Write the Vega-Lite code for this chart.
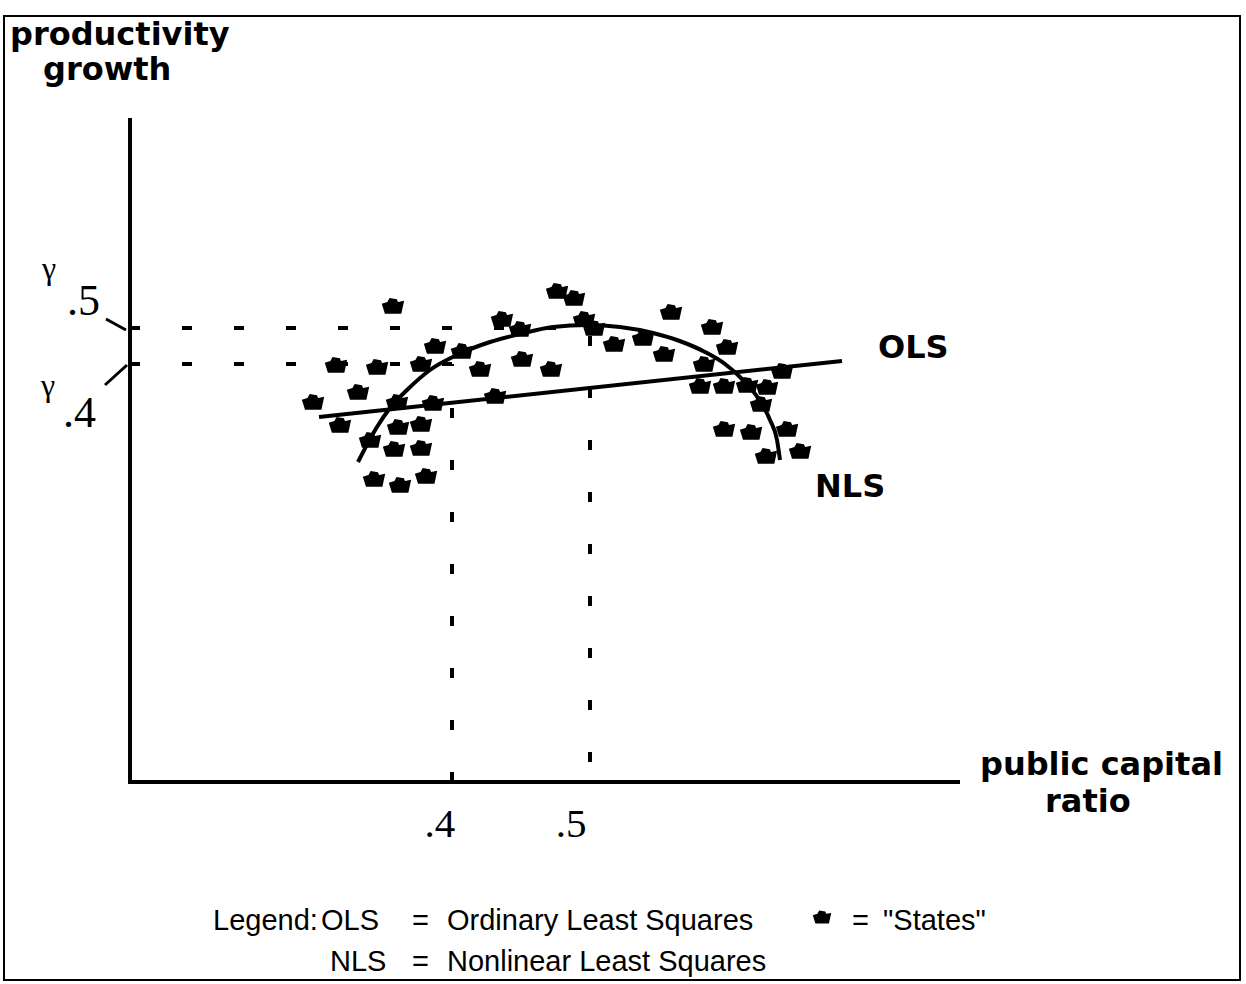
{
  "$schema": "https://vega.github.io/schema/vega-lite/v6.json",
  "width": 1246,
  "height": 984,
  "autosize": {"type": "fit", "contains": "padding"},
  "padding": {"left": 4, "top": 16, "right": 6, "bottom": 4},
  "background": "white",
  "config": {"view": {"stroke": "black", "strokeWidth": 2}},
  "datasets": {
    "axes": [
      {"ratio": 0.16667, "growth": 0, "ratio_end": 0.16667, "growth_end": 6.62},
      {"ratio": 0.16667, "growth": 0, "ratio_end": 0.76667, "growth_end": 0}
    ],
    "slashes": [
      {"ratio": 0.14928, "growth": 4.63, "ratio_end": 0.16377, "growth_end": 4.52},
      {"ratio": 0.14855, "growth": 3.97, "ratio_end": 0.16449, "growth_end": 4.17}
    ],
    "dashes": [
      {"ratio": 0.16667, "growth": 4.54, "ratio_end": 0.5, "growth_end": 4.54},
      {"ratio": 0.16667, "growth": 4.18, "ratio_end": 0.4, "growth_end": 4.18},
      {"ratio": 0.4, "growth": 0, "ratio_end": 0.4, "growth_end": 4.18},
      {"ratio": 0.5, "growth": 4.46, "ratio_end": 0.5, "growth_end": 0.12}
    ],
    "ols": [
      {"ratio": 0.30362, "growth": 3.65},
      {"ratio": 0.68261, "growth": 4.21}
    ],
    "nls": [
      {"ratio": 0.33188, "growth": 3.20},
      {"ratio": 0.34565, "growth": 3.55},
      {"ratio": 0.35507, "growth": 3.74},
      {"ratio": 0.36739, "growth": 3.92},
      {"ratio": 0.38406, "growth": 4.12},
      {"ratio": 0.40362, "growth": 4.27},
      {"ratio": 0.42754, "growth": 4.40},
      {"ratio": 0.44928, "growth": 4.48},
      {"ratio": 0.47319, "growth": 4.55},
      {"ratio": 0.49783, "growth": 4.57},
      {"ratio": 0.52174, "growth": 4.55},
      {"ratio": 0.54565, "growth": 4.49},
      {"ratio": 0.56500, "growth": 4.41},
      {"ratio": 0.58333, "growth": 4.30},
      {"ratio": 0.59783, "growth": 4.18},
      {"ratio": 0.61014, "growth": 4.03},
      {"ratio": 0.62174, "growth": 3.84},
      {"ratio": 0.63043, "growth": 3.62},
      {"ratio": 0.63551, "growth": 3.42},
      {"ratio": 0.63768, "growth": 3.22}
    ],
    "states": [
      {"ratio": 0.3572, "growth": 4.75},
      {"ratio": 0.3159, "growth": 4.16},
      {"ratio": 0.3457, "growth": 4.14},
      {"ratio": 0.3775, "growth": 4.17},
      {"ratio": 0.3319, "growth": 3.89},
      {"ratio": 0.2993, "growth": 3.79},
      {"ratio": 0.3601, "growth": 3.79},
      {"ratio": 0.3188, "growth": 3.56},
      {"ratio": 0.3609, "growth": 3.54},
      {"ratio": 0.3775, "growth": 3.57},
      {"ratio": 0.3406, "growth": 3.41},
      {"ratio": 0.3580, "growth": 3.32},
      {"ratio": 0.3775, "growth": 3.33},
      {"ratio": 0.3435, "growth": 3.02},
      {"ratio": 0.3623, "growth": 2.96},
      {"ratio": 0.3812, "growth": 3.05},
      {"ratio": 0.3877, "growth": 4.35},
      {"ratio": 0.4072, "growth": 4.30},
      {"ratio": 0.4203, "growth": 4.12},
      {"ratio": 0.3862, "growth": 3.78},
      {"ratio": 0.4362, "growth": 4.62},
      {"ratio": 0.4493, "growth": 4.52},
      {"ratio": 0.4507, "growth": 4.22},
      {"ratio": 0.4717, "growth": 4.12},
      {"ratio": 0.4312, "growth": 3.85},
      {"ratio": 0.4761, "growth": 4.90},
      {"ratio": 0.4884, "growth": 4.83},
      {"ratio": 0.4957, "growth": 4.62},
      {"ratio": 0.5029, "growth": 4.53},
      {"ratio": 0.5174, "growth": 4.37},
      {"ratio": 0.5384, "growth": 4.43},
      {"ratio": 0.5536, "growth": 4.27},
      {"ratio": 0.5587, "growth": 4.69},
      {"ratio": 0.5884, "growth": 4.54},
      {"ratio": 0.5993, "growth": 4.34},
      {"ratio": 0.5826, "growth": 4.17},
      {"ratio": 0.6391, "growth": 4.10},
      {"ratio": 0.5797, "growth": 3.95},
      {"ratio": 0.5971, "growth": 3.95},
      {"ratio": 0.6138, "growth": 3.96},
      {"ratio": 0.6283, "growth": 3.94},
      {"ratio": 0.6239, "growth": 3.77},
      {"ratio": 0.5971, "growth": 3.52},
      {"ratio": 0.6167, "growth": 3.49},
      {"ratio": 0.6428, "growth": 3.52},
      {"ratio": 0.6275, "growth": 3.25},
      {"ratio": 0.6522, "growth": 3.30}
    ],
    "boldLabels": [
      {"ratio": 0.07971, "growth": 7.37, "label": "productivity"},
      {"ratio": 0.10362, "growth": 7.02, "label": "growth"},
      {"ratio": 0.78261, "growth": 0.07, "label": "public capital"},
      {"ratio": 0.82971, "growth": -0.30, "label": "ratio"},
      {"ratio": 0.70870, "growth": 4.24, "label": "OLS"},
      {"ratio": 0.66304, "growth": 2.85, "label": "NLS"}
    ],
    "gammas": [
      {"ratio": 0.10290, "growth": 5.03, "label": "γ"},
      {"ratio": 0.10217, "growth": 3.86, "label": "γ"}
    ],
    "yValues": [
      {"ratio": 0.12101, "growth": 4.67, "label": ".5"},
      {"ratio": 0.11812, "growth": 3.55, "label": ".4"}
    ],
    "xValues": [
      {"ratio": 0.39130, "growth": -0.55, "label": ".4"},
      {"ratio": 0.48623, "growth": -0.55, "label": ".5"}
    ],
    "legendText": [
      {"ratio": 0.22681, "growth": -1.48, "label": "Legend:"},
      {"ratio": 0.30507, "growth": -1.48, "label": "OLS"},
      {"ratio": 0.37101, "growth": -1.48, "label": "="},
      {"ratio": 0.39638, "growth": -1.48, "label": "Ordinary Least Squares"},
      {"ratio": 0.68986, "growth": -1.48, "label": "="},
      {"ratio": 0.71232, "growth": -1.48, "label": "\"States\""},
      {"ratio": 0.31159, "growth": -1.89, "label": "NLS"},
      {"ratio": 0.37101, "growth": -1.89, "label": "="},
      {"ratio": 0.39638, "growth": -1.89, "label": "Nonlinear Least Squares"}
    ],
    "legendSymbol": [
      {"ratio": 0.66812, "growth": -1.36}
    ]
  },
  "layer": [
    {
      "data": {"name": "dashes"},
      "mark": {"type": "rule", "color": "black", "strokeWidth": 4, "strokeDash": [10, 42]},
      "encoding": {
        "x": {"field": "ratio", "type": "quantitative", "scale": {"domain": [0.07536, 0.97101], "nice": false, "zero": false}, "axis": null},
        "y": {"field": "growth", "type": "quantitative", "scale": {"domain": [-1.98, 7.66], "nice": false, "zero": false}, "axis": null},
        "x2": {"field": "ratio_end"},
        "y2": {"field": "growth_end"}
      }
    },
    {
      "data": {"name": "axes"},
      "mark": {"type": "rule", "color": "black", "strokeWidth": 4, "strokeCap": "square"},
      "encoding": {
        "x": {"field": "ratio", "type": "quantitative", "scale": {"domain": [0.07536, 0.97101], "nice": false, "zero": false}, "axis": null},
        "y": {"field": "growth", "type": "quantitative", "scale": {"domain": [-1.98, 7.66], "nice": false, "zero": false}, "axis": null},
        "x2": {"field": "ratio_end"},
        "y2": {"field": "growth_end"}
      }
    },
    {
      "data": {"name": "slashes"},
      "mark": {"type": "rule", "color": "black", "strokeWidth": 3},
      "encoding": {
        "x": {"field": "ratio", "type": "quantitative", "scale": {"domain": [0.07536, 0.97101], "nice": false, "zero": false}, "axis": null},
        "y": {"field": "growth", "type": "quantitative", "scale": {"domain": [-1.98, 7.66], "nice": false, "zero": false}, "axis": null},
        "x2": {"field": "ratio_end"},
        "y2": {"field": "growth_end"}
      }
    },
    {
      "data": {"name": "ols"},
      "mark": {"type": "line", "color": "black", "strokeWidth": 4},
      "encoding": {
        "x": {"field": "ratio", "type": "quantitative", "scale": {"domain": [0.07536, 0.97101], "nice": false, "zero": false}, "axis": null},
        "y": {"field": "growth", "type": "quantitative", "scale": {"domain": [-1.98, 7.66], "nice": false, "zero": false}, "axis": null}
      }
    },
    {
      "data": {"name": "nls"},
      "mark": {"type": "line", "color": "black", "strokeWidth": 4, "interpolate": "monotone"},
      "encoding": {
        "x": {"field": "ratio", "type": "quantitative", "scale": {"domain": [0.07536, 0.97101], "nice": false, "zero": false}, "axis": null},
        "y": {"field": "growth", "type": "quantitative", "scale": {"domain": [-1.98, 7.66], "nice": false, "zero": false}, "axis": null}
      }
    },
    {
      "data": {"name": "states"},
      "mark": {"type": "point", "filled": true, "color": "black", "opacity": 1, "size": 500, "shape": "M-1,-0.3 L-0.5,-0.45 L-0.3,-0.8 L0.35,-0.7 L0.45,-0.45 L1,-0.55 L0.75,0.6 L-0.72,0.6 Z"},
      "encoding": {
        "x": {"field": "ratio", "type": "quantitative", "scale": {"domain": [0.07536, 0.97101], "nice": false, "zero": false}, "axis": null},
        "y": {"field": "growth", "type": "quantitative", "scale": {"domain": [-1.98, 7.66], "nice": false, "zero": false}, "axis": null}
      }
    },
    {
      "data": {"name": "legendSymbol"},
      "mark": {"type": "point", "filled": true, "color": "black", "opacity": 1, "size": 340, "shape": "M-1,-0.3 L-0.5,-0.45 L-0.3,-0.8 L0.35,-0.7 L0.45,-0.45 L1,-0.55 L0.75,0.6 L-0.72,0.6 Z"},
      "encoding": {
        "x": {"field": "ratio", "type": "quantitative", "scale": {"domain": [0.07536, 0.97101], "nice": false, "zero": false}, "axis": null},
        "y": {"field": "growth", "type": "quantitative", "scale": {"domain": [-1.98, 7.66], "nice": false, "zero": false}, "axis": null}
      }
    },
    {
      "data": {"name": "boldLabels"},
      "mark": {"type": "text", "align": "left", "baseline": "alphabetic", "font": "DejaVu Sans", "fontWeight": "bold", "fontSize": 32, "color": "black"},
      "encoding": {
        "x": {"field": "ratio", "type": "quantitative", "scale": {"domain": [0.07536, 0.97101], "nice": false, "zero": false}, "axis": null},
        "y": {"field": "growth", "type": "quantitative", "scale": {"domain": [-1.98, 7.66], "nice": false, "zero": false}, "axis": null},
        "text": {"field": "label"}
      }
    },
    {
      "data": {"name": "gammas"},
      "mark": {"type": "text", "align": "left", "baseline": "alphabetic", "font": "Liberation Serif", "fontSize": 32, "color": "black"},
      "encoding": {
        "x": {"field": "ratio", "type": "quantitative", "scale": {"domain": [0.07536, 0.97101], "nice": false, "zero": false}, "axis": null},
        "y": {"field": "growth", "type": "quantitative", "scale": {"domain": [-1.98, 7.66], "nice": false, "zero": false}, "axis": null},
        "text": {"field": "label"}
      }
    },
    {
      "data": {"name": "yValues"},
      "mark": {"type": "text", "align": "left", "baseline": "alphabetic", "font": "Liberation Serif", "fontSize": 44, "color": "black"},
      "encoding": {
        "x": {"field": "ratio", "type": "quantitative", "scale": {"domain": [0.07536, 0.97101], "nice": false, "zero": false}, "axis": null},
        "y": {"field": "growth", "type": "quantitative", "scale": {"domain": [-1.98, 7.66], "nice": false, "zero": false}, "axis": null},
        "text": {"field": "label"}
      }
    },
    {
      "data": {"name": "xValues"},
      "mark": {"type": "text", "align": "center", "baseline": "alphabetic", "font": "Liberation Serif", "fontSize": 41, "color": "black"},
      "encoding": {
        "x": {"field": "ratio", "type": "quantitative", "scale": {"domain": [0.07536, 0.97101], "nice": false, "zero": false}, "axis": null},
        "y": {"field": "growth", "type": "quantitative", "scale": {"domain": [-1.98, 7.66], "nice": false, "zero": false}, "axis": null},
        "text": {"field": "label"}
      }
    },
    {
      "data": {"name": "legendText"},
      "mark": {"type": "text", "align": "left", "baseline": "alphabetic", "font": "Liberation Sans", "fontSize": 29, "color": "black"},
      "encoding": {
        "x": {"field": "ratio", "type": "quantitative", "scale": {"domain": [0.07536, 0.97101], "nice": false, "zero": false}, "axis": null},
        "y": {"field": "growth", "type": "quantitative", "scale": {"domain": [-1.98, 7.66], "nice": false, "zero": false}, "axis": null},
        "text": {"field": "label"}
      }
    }
  ]
}
